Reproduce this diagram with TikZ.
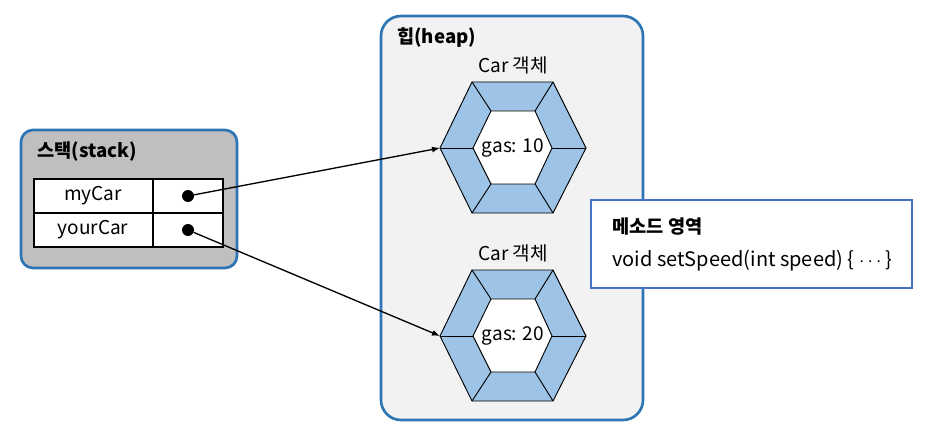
\documentclass[tikz,border=0pt]{standalone}
\usepackage{fontspec}
\setmainfont{Noto Sans CJK KR}
\usetikzlibrary{arrows.meta,positioning,calc}
\definecolor{boxblue}{HTML}{2E75B6}
\definecolor{methblue}{HTML}{4472C4}
\definecolor{hexblue}{HTML}{9DC3E6}
\definecolor{stackgray}{HTML}{BFBFBF}
\definecolor{heapgray}{HTML}{F2F2F2}
\newcommand\carobj[3]{%
\begin{scope}[shift={(0,#2)}]
\draw[fill=hexblue,line width=.7pt] (440,148) coordinate (#1o1)--(472,82) coordinate (#1o2)--(553,82) coordinate (#1o3)--(586,148) coordinate (#1o4)--(553,213) coordinate (#1o5)--(472,213) coordinate (#1o6)--cycle;
\draw[fill=white,line width=.7pt] (473,148) coordinate (#1i1)--(491,111) coordinate (#1i2)--(535,111) coordinate (#1i3)--(552,148) coordinate (#1i4)--(535,184) coordinate (#1i5)--(491,184) coordinate (#1i6)--cycle;
\foreach \k in {1,...,6} \draw[line width=.7pt] (#1o\k)--(#1i\k);
\node[lbl] (#1gas) at (513,148) {gas: #3};\node[lbl] (#1ttl) at (513,65) {Car 객체};
\end{scope}}

\begin{document}
\begin{tikzpicture}[x=.75pt,y=-.75pt,>={Latex[length=6pt,width=4.5pt]},
 lbl/.style={font=\fontsize{14.3}{16}\selectfont,inner sep=0pt},
 ttl/.style={font=\fontsize{14}{16}\selectfont\bfseries,inner sep=0pt,anchor=west},
 dot/.style={circle,fill=black,inner sep=0pt,minimum size=9pt}]
\useasboundingbox (0,0) rectangle (930,438);
% stack
\draw[boxblue,line width=2pt,fill=stackgray,rounded corners=9pt] (21,130) rectangle (237,268);
\node[ttl] (stk) at (37,152) {스택(stack)};
\draw[fill=white,line width=1.2pt] (34,179) rectangle (223,247);\draw[line width=1.2pt] (34,213)--(223,213) (153,179)--(153,247);
\node[lbl] (my) at (93,196) {myCar};\node[lbl] (your) at (93,230) {yourCar};
\node[dot] (mydot) at (188,196) {};\node[dot] (yourdot) at (188,230) {};
% heap
\draw[boxblue,line width=2pt,fill=heapgray,rounded corners=15pt] (381,16) rectangle (643,420);
\node[ttl] (heap) at (397,38) {힙(heap)};
\carobj{carA}{0}{10}\carobj{carB}{188}{20}
% method area
\draw[methblue,line width=1.5pt,fill=white] (591,200) rectangle (912,288);
\node[ttl] (meth) at (612,227) {메소드 영역};\node[lbl,anchor=west,font=\fontsize{15}{17}\selectfont] (code) at (612,261) {void setSpeed(int speed) \{ $\cdots$ \}};
\draw[->,line width=1pt] (mydot)--(carAo1);\draw[->,line width=1pt] (yourdot)--(carBo1);
\end{tikzpicture}
\end{document}
